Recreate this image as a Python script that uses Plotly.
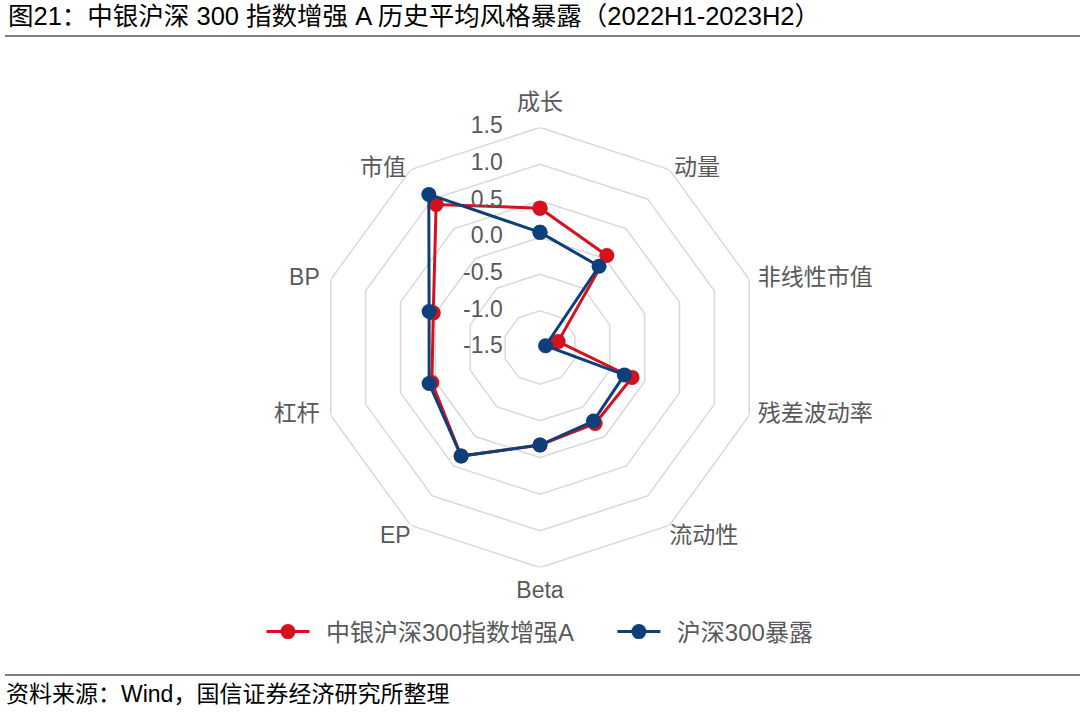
import plotly.graph_objects as go

categories = ["成长", "动量", "非线性市值", "残差波动率", "流动性", "Beta", "EP", "杠杆", "BP", "市值"]
fund_values = [0.40, 0.05, -1.24, -0.18, -0.22, -0.17, 0.33, 0.05, 0.03, 0.91]
hs300_values = [0.07, -0.13, -1.42, -0.29, -0.26, -0.17, 0.33, 0.09, 0.09, 1.08]
series_names = ["中银沪深300指数增强A", "沪深300暴露"]
radial_ticks = [-1.5, -1.0, -0.5, 0.0, 0.5, 1.0, 1.5]
radial_tick_labels = ["-1.5", "-1.0", "-0.5", "0.0", "0.5", "1.0", "1.5"]
label_positions = ["top center", "middle right", "middle right", "middle right", "bottom right",
                   "bottom center", "bottom left", "middle left", "middle left", "middle left"]
label_offsets = [18, 6, 12, 12, 0, 20, 0, 16, 16, 6]

RED = "#D7101E"
BLUE = "#0D3F7A"
GRID = "#D9D9D9"
FONT = "Liberation Sans, Noto Sans CJK SC, sans-serif"
GRAY = "#595959"
W, H = 1080, 715
CX, CY, R = 540, 347.5, 220
RMIN, RMAX = radial_ticks[0], radial_ticks[-1]

fig = go.Figure()

# decagon grid rings
for v in radial_ticks[1:]:
    fig.add_trace(go.Scatterpolar(
        r=[v] * (len(categories) + 1),
        theta=categories + [categories[0]],
        mode="lines", line=dict(color=GRID, width=1.5),
        showlegend=False, hoverinfo="skip", cliponaxis=False,
    ))

# data series
lead = "\u00a0\u2009"
legend_names = [lead + series_names[0] + "\u00a0" * 5, lead + series_names[1]]
for name, vals, col in [(legend_names[0], fund_values, RED), (legend_names[1], hs300_values, BLUE)]:
    fig.add_trace(go.Scatterpolar(
        r=vals + [vals[0]],
        theta=categories + [categories[0]],
        mode="lines+markers",
        name=name,
        cliponaxis=False,
        line=dict(color=col, width=3),
        marker=dict(color=col, size=15),
    ))

# radial tick labels along the 成长 spoke
fig.add_trace(go.Scatterpolar(
    r=radial_ticks,
    theta=[categories[0]] * len(radial_ticks),
    mode="markers+text",
    text=radial_tick_labels,
    textposition="middle left",
    marker=dict(size=58, opacity=0),
    textfont=dict(size=23, color=GRAY, family=FONT),
    cliponaxis=False, showlegend=False, hoverinfo="skip",
))

# category labels at the outer ring
fig.add_trace(go.Scatterpolar(
    r=[RMAX] * len(categories),
    theta=categories,
    mode="markers+text",
    text=categories,
    textposition=label_positions,
    marker=dict(size=label_offsets, opacity=0),
    textfont=dict(size=23, color=GRAY, family=FONT),
    cliponaxis=False, showlegend=False, hoverinfo="skip",
))

fig.update_layout(
    width=W, height=H,
    margin=dict(l=0, r=0, t=0, b=0),
    paper_bgcolor="white",
    plot_bgcolor="white",
    font=dict(family=FONT, color=GRAY, size=23),
    polar=dict(
        domain=dict(x=[(CX - R) / W, (CX + R) / W], y=[(H - CY - R) / H, (H - CY + R) / H]),
        bgcolor="rgba(0,0,0,0)",
        angularaxis=dict(
            direction="clockwise", rotation=90,
            showgrid=False, showline=False, showticklabels=False, ticks="",
        ),
        radialaxis=dict(
            range=[RMIN, RMAX], angle=90,
            showline=False, showgrid=False, showticklabels=False, ticks="",
        ),
    ),
    legend=dict(
        orientation="h", x=0.5, xanchor="center", y=(H - 632) / H, yanchor="middle",
        font=dict(size=24, color=GRAY, family=FONT),
        itemwidth=43,
    ),
    annotations=[
        dict(text="图21：中银沪深 300 指数增强 A 历史平均风格暴露（2022H1-2023H2）",
             xref="paper", yref="paper", x=6 / W, y=1 - 16 / H, xanchor="left", yanchor="middle",
             showarrow=False, font=dict(size=25.5, color="#000000", family=FONT)),
        dict(text="资料来源：Wind，国信证券经济研究所整理",
             xref="paper", yref="paper", x=4 / W, y=1 - 694 / H, xanchor="left", yanchor="middle",
             showarrow=False, font=dict(size=23, color="#000000", family=FONT)),
    ],
    shapes=[
        dict(type="line", xref="paper", yref="paper", x0=5 / W, x1=1, y0=1 - 36 / H, y1=1 - 36 / H,
             line=dict(color="#7F7F7F", width=2)),
        dict(type="line", xref="paper", yref="paper", x0=5 / W, x1=1, y0=1 - 675 / H, y1=1 - 675 / H,
             line=dict(color="#7F7F7F", width=2)),
    ],
)

fig.write_html("out.html", config={"displayModeBar": False},
               post_script="document.body.style.margin='0';document.body.style.overflow='hidden';")
